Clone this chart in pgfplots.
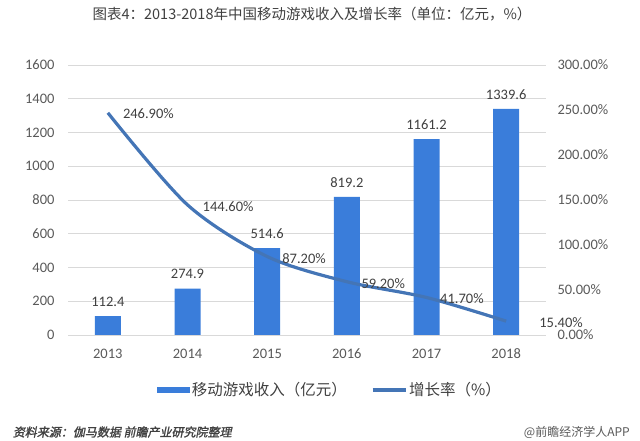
\documentclass[border=0pt]{standalone}
\usepackage{pgfplots}
\pgfplotsset{compat=1.18}
\usepackage{fontspec}
\setmainfont{Carlito}
\newfontfamily\cjk{Noto Sans CJK SC}
\newfontfamily\cjkit[FakeSlant=0.2,FakeBold=1.5]{Noto Sans CJK SC}
\definecolor{barblue}{RGB}{58,125,218}
\definecolor{lineblue}{RGB}{68,117,182}
\definecolor{gridgray}{RGB}{217,217,217}
\definecolor{ticktext}{RGB}{89,89,89}
\definecolor{labeltext}{RGB}{64,64,64}
\pgfplotsset{
  barlegend/.style={legend image code/.code={\fill[##1] (0pt,-3pt) rectangle (33pt,3pt);}},
  linelegend/.style={legend image code/.code={\draw[##1] (0pt,0pt) -- (33pt,0pt);}},
}
\begin{document}
\begin{tikzpicture}[x=1pt,y=1pt]
\useasboundingbox (0,0) rectangle (640,441);
\begin{axis}[
  at={(68pt,106pt)}, anchor=south west,
  width=478pt, height=270pt, scale only axis,
  xmin=-0.5, xmax=5.5, ymin=0, ymax=1600,
  xtick={0,1,2,3,4,5}, xticklabels={2013,2014,2015,2016,2017,2018},
  ytick={0,200,...,1600},
  axis line style={draw=none},
  tick style={draw=none},
  ymajorgrids, grid style={gridgray, line width=0.9pt},
  /pgf/number format/assume math mode=true,
  /pgf/number format/1000 sep={},
  ticklabel style={font=\fontsize{14.5}{16}\selectfont, text=ticktext},
  yticklabel style={xshift=-10pt},
  xticklabel style={yshift=-10.5pt},
  legend style={at={(0.186,-0.2037)}, anchor=west, draw=none, fill=none,
    legend columns=-1, inner sep=0pt, outer sep=0pt,
    font=\cjk\fontsize{15.5}{17}\selectfont, text=labeltext,
    nodes={inner xsep=2pt, inner ysep=0pt},
    /tikz/every even column/.append style={column sep=22pt}},
]
\addplot[fill=barblue, draw=none, ybar, bar width=26pt, bar shift=0pt, barlegend,
  nodes near coords,
  nodes near coords style={font=\fontsize{14.5}{16}\selectfont, text=labeltext, yshift=6pt,
    /pgf/number format/fixed, /pgf/number format/precision=1, /pgf/number format/fixed zerofill}]
  coordinates {(0,112.4) (1,274.9) (2,514.6) (3,819.2) (4,1161.2) (5,1339.6)};
\addlegendentry{移动游戏收入（亿元）}
\addlegendimage{lineblue, line width=3.2pt, linelegend}
\addlegendentry{增长率（\%）}
\end{axis}
\begin{axis}[
  at={(68pt,106pt)}, anchor=south west,
  width=478pt, height=270pt, scale only axis,
  xmin=-0.5, xmax=5.5, ymin=0, ymax=300,
  clip=false,
  axis x line=none, axis y line*=right,
  axis line style={draw=none},
  tick style={draw=none},
  ytick={0,50,...,300},
  yticklabel={\pgfmathprintnumber[fixed,fixed zerofill,precision=2]{\tick}\%},
  /pgf/number format/assume math mode=true,
  yticklabel style={font=\fontsize{14.5}{16}\selectfont, text=ticktext, xshift=8pt},
]
\addplot[lineblue, line width=3.2pt, smooth, tension=0.5]
  coordinates {(0,246.9) (1,144.6) (2,87.2) (3,59.2) (4,41.7) (5,15.4)};
\begin{scope}[every node/.style={anchor=west, inner sep=0pt, font=\fontsize{14.5}{16}\selectfont, text=labeltext}]
\node[xshift=15pt, yshift=-1pt] at (axis cs:0,246.9) {246.90\%};
\node[xshift=15pt, yshift=-2pt] at (axis cs:1,144.6) {144.60\%};
\node[xshift=15pt, yshift=-2pt] at (axis cs:2,87.2) {87.20\%};
\node[xshift=14.5pt, yshift=-1.5pt] at (axis cs:3,59.2) {59.20\%};
\node[xshift=13.5pt, yshift=-1.5pt] at (axis cs:4,41.7) {41.70\%};
\node[xshift=33pt, yshift=-1pt] at (axis cs:5,15.4) {15.40\%};
\end{scope}
\end{axis}
\node[font=\cjk\fontsize{14.5}{16}\selectfont, text=labeltext] at (312,427) {图表4：2013-2018年中国移动游戏收入及增长率（单位：亿元，\%）};
\node[anchor=west, inner sep=0pt, font=\cjkit\fontsize{12}{14}\selectfont, text=labeltext] at (12.7,9) {资料来源：伽马数据 前瞻产业研究院整理};
\node[anchor=east, inner sep=0pt, font=\cjk\fontsize{12}{14}\selectfont, text=ticktext] at (630,9) {@前瞻经济学人APP};
\end{tikzpicture}
\end{document}
